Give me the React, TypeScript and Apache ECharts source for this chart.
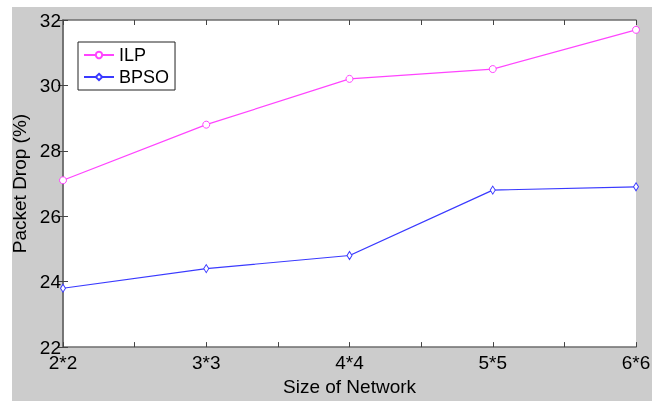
import React, { useEffect, useRef } from "react";
import * as echarts from "echarts";

const categories = ["2*2", "3*3", "4*4", "5*5", "6*6"];
const ilpValues = [27.1, 28.8, 30.2, 30.5, 31.7];
const bpsoValues = [23.8, 24.4, 24.8, 26.8, 26.9];
const yTicks = [22, 24, 26, 28, 30, 32];

const FONT = "'Liberation Sans', Arial, sans-serif";
const AXIS_COLOR = "#6e6e6e";

export default function App() {
  const ref = useRef<HTMLDivElement>(null);
  useEffect(() => {
    if (!ref.current) return;
    const chart = echarts.init(ref.current, null, { renderer: "svg" });
    const xFormatter = (v: number) => {
      const i = Math.round(v);
      return Math.abs(v - i) < 1e-6 && categories[i] ? categories[i] : "";
    };
    const yMin = yTicks[0];
    const yMax = yTicks[yTicks.length - 1];
    const yInterval = yTicks[1] - yTicks[0];
    const tick = { show: true, inside: true, length: 5, lineStyle: { color: "#444", width: 1 } };
    const axisLine = { show: true, lineStyle: { color: AXIS_COLOR, width: 1.5 } };
    chart.setOption({
      animation: false,
      textStyle: { fontFamily: FONT },
      graphic: [
        {
          type: "rect",
          shape: { x: 12, y: 7, width: 640, height: 394 },
          style: { fill: "#cccccc" },
          z: -10,
          silent: true,
        },
      ],
      grid: {
        left: 63,
        top: 20,
        width: 573,
        height: 335,
        show: true,
        backgroundColor: "#ffffff",
        borderColor: AXIS_COLOR,
        borderWidth: 0,
      },
      legend: {
        orient: "vertical",
        left: 78,
        top: 42,
        backgroundColor: "#ffffff",
        borderColor: "#222",
        borderWidth: 1,
        padding: [4, 6, 4, 5],
        itemGap: 4,
        itemWidth: 30,
        itemHeight: 8,
        textStyle: { fontSize: 18, color: "#000", fontFamily: FONT },
        data: ["ILP", "BPSO"],
      },
      xAxis: [
        {
          type: "value",
          min: 0,
          max: categories.length - 1,
          interval: 0.5,
          position: "bottom",
          name: "Size of Network",
          nameLocation: "middle",
          nameGap: 28,
          nameTextStyle: { fontSize: 19, color: "#000", fontFamily: FONT },
          axisLine,
          axisTick: tick,
          splitLine: { show: false },
          axisLabel: { formatter: xFormatter, fontSize: 19, color: "#000", margin: 6, fontFamily: FONT, showMinLabel: true, showMaxLabel: true },
        },
        {
          type: "value",
          min: 0,
          max: categories.length - 1,
          interval: 0.5,
          position: "top",
          axisLine,
          axisTick: tick,
          splitLine: { show: false },
          axisLabel: { show: false },
        },
      ],
      yAxis: [
        {
          type: "value",
          min: yMin,
          max: yMax,
          interval: yInterval,
          position: "left",
          name: "Packet Drop (%)",
          nameLocation: "middle",
          nameGap: 30,
          nameTextStyle: { fontSize: 19, color: "#000", fontFamily: FONT },
          axisLine,
          axisTick: tick,
          splitLine: { show: false },
          axisLabel: { fontSize: 19, color: "#000", margin: 2, fontFamily: FONT },
        },
        {
          type: "value",
          min: yMin,
          max: yMax,
          interval: yInterval,
          position: "right",
          axisLine,
          axisTick: tick,
          splitLine: { show: false },
          axisLabel: { show: false },
        },
      ],
      series: [
        {
          name: "ILP",
          type: "line",
          data: ilpValues.map((v, i) => [i, v]),
          symbol: "circle",
          symbolSize: 7,
          itemStyle: { color: "#ffffff", borderColor: "#ff44ff", borderWidth: 1 },
          lineStyle: { color: "#ff44ff", width: 1.2 },
          showAllSymbol: true,
        },
        {
          name: "BPSO",
          type: "line",
          data: bpsoValues.map((v, i) => [i, v]),
          symbol: "diamond",
          symbolSize: [5, 8],
          itemStyle: { color: "#ffffff", borderColor: "#3a3aff", borderWidth: 1 },
          lineStyle: { color: "#3a3aff", width: 1.2 },
          showAllSymbol: true,
        },
      ],
    });
    return () => chart.dispose();
  }, []);
  return (
    <div
      ref={ref}
      style={{ position: "fixed", left: 0, top: 0, width: 660, height: 401 }}
    />
  );
}
